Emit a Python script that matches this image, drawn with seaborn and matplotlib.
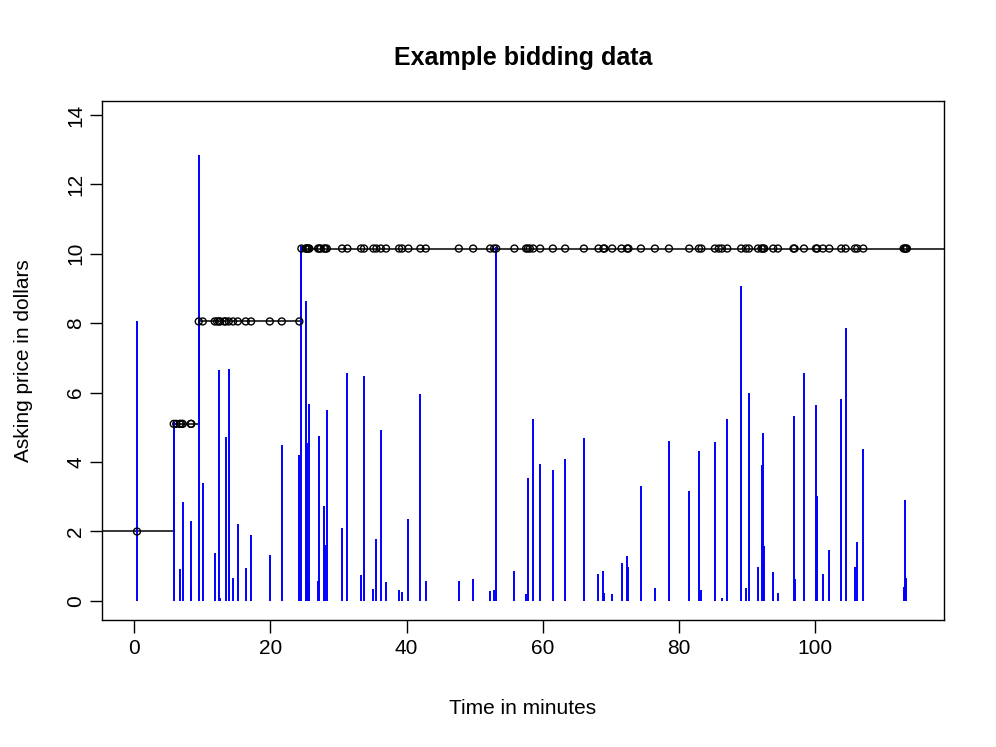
import pandas as pd
import seaborn as sns
import matplotlib.pyplot as plt

# bid times (minutes), bid amounts (blue) and asking price after each bid (black)
times = [0.44, 5.83, 6.20, 6.71, 6.90, 7.15, 8.33, 8.41,
         9.50, 10.09, 11.85, 12.20, 12.48, 12.63, 13.25, 13.47, 13.91, 14.54, 15.23, 16.40, 17.18,
         19.93, 21.69, 24.27,
         24.57, 25.18, 25.33, 25.45, 25.62, 25.73, 27.02, 27.19, 27.40, 27.90, 28.09, 28.30,
         30.54, 31.32, 33.33, 33.77, 35.14, 35.58, 36.23, 37.00, 38.91, 39.35, 40.28, 42.04,
         42.83, 47.68, 49.78, 52.28, 52.86, 53.16, 55.84, 57.56, 57.81, 58.10, 58.59, 59.62,
         61.48, 63.29, 66.04, 68.18, 68.91, 69.06, 70.19, 71.56, 72.39, 72.58, 74.41, 76.46,
         78.52, 81.50, 82.92, 83.29, 85.27, 85.85, 86.30, 87.08, 89.13, 89.82, 90.26, 91.59,
         92.11, 92.32, 92.51, 93.83, 94.52, 96.81, 96.96, 98.34, 100.10, 100.29, 101.13,
         102.06, 103.82, 104.45, 105.83, 106.17, 107.05, 112.97, 113.17, 113.32, 113.45]
bids = [8.07, 5.14, 0.0, 0.91, 0.0, 2.86, 0.41, 2.31,
        12.85, 3.39, 1.39, 0.0, 6.66, 0.08, 0.0, 4.72, 6.69, 0.65, 2.22, 0.95, 1.90,
        1.33, 4.49, 4.21,
        10.21, 8.65, 1.09, 4.54, 0.56, 5.66, 0.56, 4.75, 0.0, 2.74, 1.61, 5.50,
        2.09, 6.56, 0.75, 6.48, 0.34, 1.78, 4.93, 0.55, 0.32, 0.25, 2.36, 5.96,
        0.57, 0.56, 0.62, 0.30, 0.32, 10.18, 0.85, 0.20, 3.53, 0.0, 5.24, 3.94,
        3.77, 4.08, 4.69, 0.78, 0.85, 0.24, 0.20, 1.09, 1.30, 0.99, 3.31, 0.36,
        4.62, 3.17, 4.32, 0.32, 4.57, 0.0, 0.08, 5.24, 9.06, 0.36, 6.00, 0.97,
        3.92, 4.83, 1.58, 0.82, 0.22, 5.33, 0.62, 6.56, 5.65, 3.03, 0.78,
        1.47, 5.82, 7.87, 0.99, 1.69, 4.38, 0.41, 2.91, 0.65, 0.0]
price = [2.0, 5.1, 5.1, 5.1, 5.1, 5.1, 5.1, 5.1,
         8.05, 8.05, 8.05, 8.05, 8.05, 8.05, 8.05, 8.05, 8.05, 8.05, 8.05, 8.05, 8.05,
         8.05, 8.05, 8.05] + [10.15] * 81

x_ticks = [0, 20, 40, 60, 80, 100]
y_ticks = [0, 2, 4, 6, 8, 10, 12, 14]

df = pd.DataFrame({'time': times, 'bid': bids, 'price': price})

sns.set_style('ticks')
plt.rcParams['font.family'] = ['Liberation Sans', 'DejaVu Sans']
plt.rcParams['text.color'] = 'black'
plt.rcParams['axes.labelcolor'] = 'black'
plt.rcParams['xtick.color'] = 'black'
plt.rcParams['ytick.color'] = 'black'

fig = plt.figure(figsize=(9.96, 7.47), dpi=100)
ax = fig.add_axes([0.1024, 0.170, 0.8454, 0.6948])
xlim = (-4.7, 118.9)
ylim = (-0.55, 14.4)

# step line of the asking price, running to both edges
step_x = [xlim[0]] + times + [xlim[1]]
step_y = [price[0]] + price + [price[-1]]
ax.step(step_x, step_y, where='post', color='black', lw=1.1, zorder=2)

ax.vlines(df['time'], 0, df['bid'], color='#0000ff', lw=1.4, zorder=3)

sns.scatterplot(data=df, x='time', y='price', ax=ax, s=25, marker='o',
                facecolor='none', edgecolor='black', linewidth=1.0, zorder=4)

ax.set_xlim(xlim)
ax.set_ylim(ylim)
ax.set_xticks(x_ticks)
ax.set_yticks(y_ticks)
ax.set_yticklabels([str(v) for v in y_ticks], rotation=90, va='center')
ax.tick_params(direction='out', length=9, width=1, labelsize=15, pad=5, color='black')
ax.tick_params(axis='y', pad=3)
for sp in ax.spines.values():
    sp.set_visible(True)
    sp.set_color('black')
    sp.set_linewidth(1)

ax.set_xlabel('Time in minutes', fontsize=15, labelpad=29)
ax.set_ylabel('Asking price in dollars', fontsize=15, labelpad=24)
ax.set_title('Example bidding data', fontsize=18, fontweight='bold', pad=26)

fig.savefig('out.png', dpi=100)
